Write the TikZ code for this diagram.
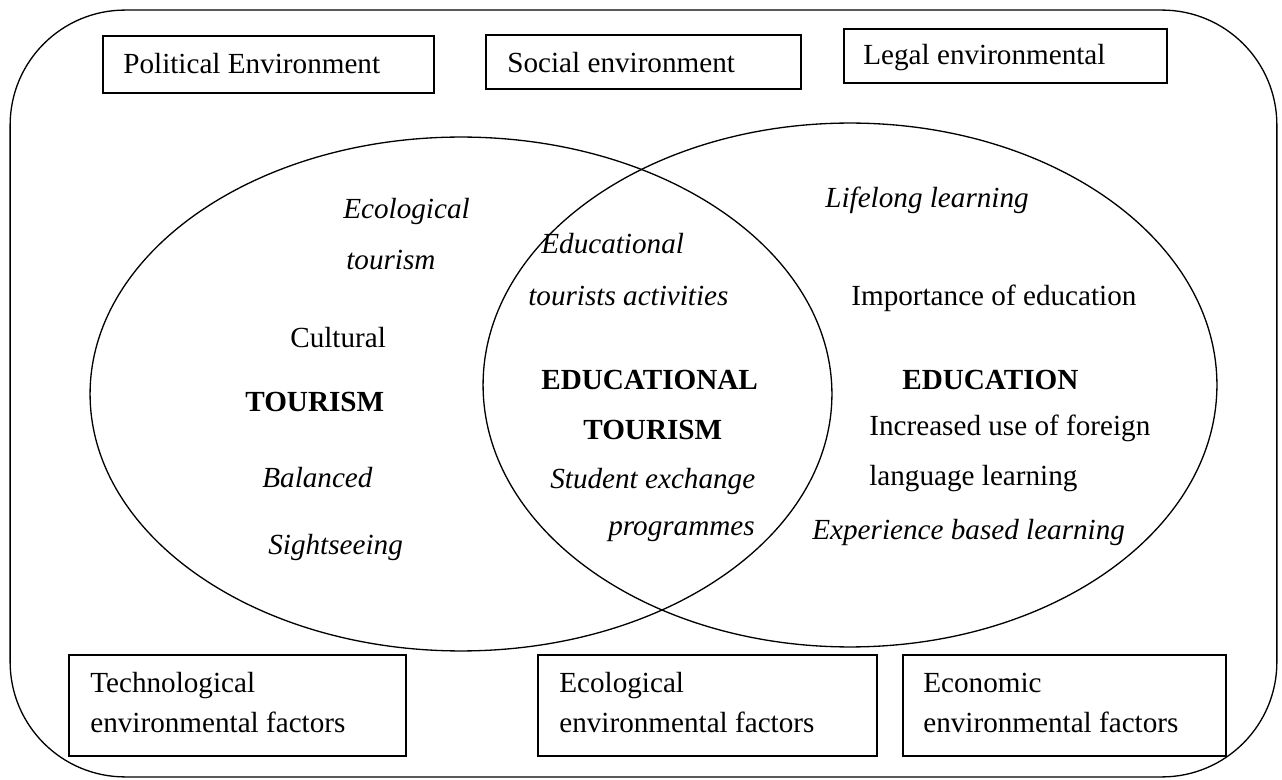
\documentclass[tikz,border=0pt]{standalone}
\usepackage{fontspec}
\setmainfont{Liberation Serif}
\usetikzlibrary{shapes.geometric}
\tikzset{
  line/.style={line width=0.75pt},
  boxnode/.style={draw, line, inner sep=0pt},
  vennset/.style={draw, line, ellipse, inner sep=0pt},
  txt/.style={inner sep=0pt, anchor=base west, font=\fontsize{16.6}{22.7}\selectfont},
  itxt/.style={txt, font=\fontsize{16.6}{22.7}\selectfont\itshape},
  btxt/.style={txt, font=\fontsize{16.6}{22.7}\selectfont\bfseries}
}
\begin{document}
\begin{tikzpicture}[x=0.02cm, y=-0.02cm]
\useasboundingbox (0,0) rectangle (1282,780);
% outer frame
\node[boxnode, rounded corners=2.3cm, minimum width=25.34cm, minimum height=15.34cm] (env) at (643.5,393.5) {};
% top boxes
\node[boxnode, minimum width=6.62cm, minimum height=1.14cm] (pol) at (268.5,64.5) {};
\node[boxnode, minimum width=6.30cm, minimum height=1.08cm] (soc) at (643.5,62) {};
\node[boxnode, minimum width=6.46cm, minimum height=1.08cm] (leg) at (1005.5,56) {};
\node[txt] (polt) at (123,74) {Political Environment};
\node[txt] (soct) at (507,73) {Social environment};
\node[txt] (legt) at (863,65) {Legal environmental};
% bottom boxes
\node[boxnode, minimum width=6.74cm, minimum height=2.02cm] (tech) at (237.5,705.5) {};
\node[boxnode, minimum width=6.78cm, minimum height=2.02cm] (ecol) at (707.5,705.5) {};
\node[boxnode, minimum width=6.46cm, minimum height=2.02cm] (econ) at (1064.5,705.5) {};
\node[txt] (tech1) at (90,692) {Technological};
\node[txt] (tech2) at (90,732) {environmental factors};
\node[txt] (ecol1) at (559,692) {Ecological};
\node[txt] (ecol2) at (559,732) {environmental factors};
\node[txt] (econ1) at (923,692) {Economic};
\node[txt] (econ2) at (923,732) {environmental factors};
% venn sets
\node[vennset, minimum width=14.84cm, minimum height=10.28cm] (tour) at (461,394) {};
\node[vennset, minimum width=14.68cm, minimum height=10.48cm] (educ) at (850,385) {};
% tourism texts
\node[itxt] (t1) at (343,219) {Ecological};
\node[itxt] (t2) at (346,270) {tourism};
\node[txt] (t3) at (290,348) {Cultural};
\node[btxt] (t4) at (245,412) {TOURISM};
\node[itxt] (t5) at (262,488) {Balanced};
\node[itxt] (t6) at (268,555) {Sightseeing};
% overlap texts
\node[itxt] (o1) at (541,254) {Educational};
\node[itxt] (o2) at (528,306) {tourists activities};
\node[btxt] (o3) at (541,390) {EDUCATIONAL};
\node[btxt] (o4) at (583,440) {TOURISM};
\node[itxt] (o5) at (550,489) {Student exchange};
\node[itxt] (o6) at (608,536) {programmes};
% education texts
\node[itxt] (e1) at (825,208) {Lifelong learning};
\node[txt] (e2) at (851,306) {Importance of education};
\node[btxt] (e3) at (902,390) {EDUCATION};
\node[txt] (e4) at (869,436) {Increased use of foreign};
\node[txt] (e5) at (869,486) {language learning};
\node[itxt] (e6) at (812,540) {Experience based learning};
\end{tikzpicture}
\end{document}
